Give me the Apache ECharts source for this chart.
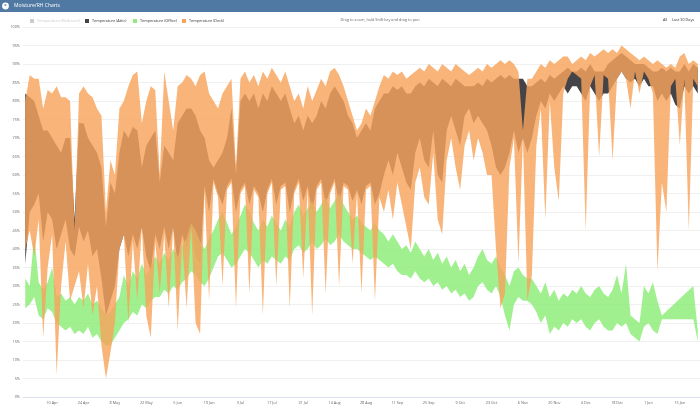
<!DOCTYPE html>
<html>
<head>
<meta charset="utf-8">
<title>Moisture/RH Charts</title>
<script src="https://cdn.jsdelivr.net/npm/echarts@6/dist/echarts.min.js"></script>
<style>
  html, body { margin: 0; padding: 0; background: #fff; }
  #chart { width: 700px; height: 408px; }
</style>
</head>
<body>
<div id="chart"></div>
<script>
// one point every 2 days, first day 29 Mar 2017
var startDate = '2017-03-29'
var stepDays = 2

var tickLabels = ['10 Apr', '24 Apr', '8 May', '22 May', '5 Jun', '19 Jun', '3 Jul', '17 Jul', '31 Jul', '14 Aug',
  '28 Aug', '11 Sep', '25 Sep', '9 Oct', '23 Oct', '6 Nov', '20 Nov', '4 Dec', '18 Dec', '1 Jan', '15 Jan']

var deckMax = [80, 87, 86, 86, 78, 83, 82, 84, 81, 81,
  80, 45, 82, 84, 82, 81, 78, 76, 50, 64,
  60, 78, 80, 84, 87, 88, 74, 80, 84, 83,
  60, 88, 80, 72, 84, 85, 87, 86, 84, 87,
  88, 82, 80, 78, 82, 84, 86, 62, 86, 88,
  85, 87, 84, 88, 86, 89, 87, 85, 88, 84,
  80, 82, 78, 84, 80, 83, 86, 84, 88, 89,
  87, 84, 80, 76, 72, 74, 78, 76, 80, 84,
  87, 86, 88, 87, 88, 86, 87, 88, 89, 88,
  90, 89, 88, 90, 89, 88, 90, 89, 88, 87,
  88, 89, 88, 90, 89, 90, 91, 90, 91, 90,
  88, 72, 86, 86, 88, 90, 89, 91, 90, 91,
  92, 92, 90, 91, 92, 91, 93, 92, 93, 94,
  93, 94, 93, 95, 94, 93, 92, 91, 92, 91,
  90, 91, 90, 89, 90, 89, 92, 93, 90, 91,
  90]
var deckMin = [40, 45, 38, 48, 16, 35, 44, 6, 30, 42,
  26, 30, 34, 24, 36, 22, 30, 14, 5, 12,
  20, 40, 44, 20, 42, 26, 46, 22, 16, 42,
  28, 44, 24, 46, 18, 42, 24, 46, 20, 17,
  56, 26, 58, 54, 30, 56, 58, 24, 55, 57,
  28, 56, 54, 22, 55, 58, 30, 56, 57, 24,
  55, 58, 32, 56, 22, 56, 58, 28, 55, 58,
  30, 57, 56, 36, 55, 28, 56, 57, 26, 54,
  50, 56, 48, 58, 52, 46, 40, 58, 62, 54,
  52, 66, 48, 44, 64, 70, 62, 56, 68, 72,
  64, 70, 66, 60, 60, 40, 24, 28, 62, 70,
  36, 70, 26, 33, 68, 78, 48, 80, 62, 53,
  82, 86, 88, 87, 86, 45, 84, 87, 65, 87,
  86, 64, 86, 88, 86, 78, 88, 82, 88, 86,
  82, 34, 58, 50, 84, 86, 68, 86, 45, 86,
  84]

var atticMax = [82, 81, 80, 76, 72, 72, 70, 68, 66, 70,
  70, 48, 74, 74, 70, 68, 66, 62, 46, 58,
  55, 66, 72, 70, 73, 72, 62, 68, 70, 72,
  58, 68, 66, 64, 74, 76, 78, 78, 76, 72,
  70, 64, 62, 64, 66, 70, 78, 60, 80, 82,
  80, 82, 78, 82, 80, 84, 82, 80, 82, 78,
  74, 76, 72, 76, 74, 76, 80, 78, 82, 84,
  82, 80, 76, 74, 70, 72, 74, 72, 78, 80,
  82, 82, 84, 83, 84, 82, 82, 84, 85, 84,
  86, 85, 84, 86, 85, 84, 86, 85, 84, 84,
  84, 85, 84, 86, 85, 86, 87, 86, 87, 86,
  86, 86, 84, 84, 85, 86, 85, 87, 86, 87,
  88, 89, 88, 88, 89, 88, 90, 88, 88, 88,
  90, 91, 92, 93, 92, 91, 90, 90, 90, 89,
  88, 88, 89, 88, 89, 88, 88, 90, 88, 90,
  89]
var atticMin = [36, 50, 52, 55, 42, 50, 48, 40, 44, 48,
  40, 38, 46, 42, 45, 38, 40, 32, 22, 26,
  30, 40, 44, 38, 44, 40, 46, 38, 34, 44,
  40, 46, 40, 46, 36, 44, 40, 46, 38, 36,
  57, 50, 59, 55, 52, 57, 59, 50, 56, 58,
  52, 57, 55, 50, 56, 59, 52, 57, 58, 50,
  56, 59, 53, 57, 50, 57, 59, 52, 56, 59,
  52, 58, 57, 53, 56, 52, 57, 58, 52, 55,
  60, 64, 60, 66, 62, 58, 56, 66, 70, 64,
  62, 72, 60, 58, 72, 76, 72, 68, 76, 78,
  74, 76, 74, 72, 68, 62, 60, 62, 66, 72,
  66, 70, 66, 70, 76, 80, 78, 82, 80, 82,
  84, 82, 84, 84, 82, 80, 84, 82, 80, 82,
  82, 84, 86, 88, 86, 85, 86, 84, 86, 84,
  84, 80, 82, 80, 82, 79, 78, 84, 82, 84,
  82]

var officeMax = [32, 30, 44, 31, 29, 31, 35, 27, 28, 26,
  27, 25, 27, 26, 28, 25, 26, 24, 22, 23,
  25, 27, 33, 30, 34, 32, 36, 33, 35, 38,
  36, 39, 37, 40, 38, 41, 43, 47, 45, 42,
  40, 43, 45, 48, 50, 47, 44, 46, 49, 52,
  50, 47, 45, 48, 46, 49, 47, 45, 48, 46,
  50, 52, 49, 51, 53, 50, 52, 54, 51, 53,
  55, 52, 50, 48, 49, 47, 46, 45, 47, 45,
  44, 42, 44, 42, 40, 41, 39, 42, 40, 38,
  40, 37, 39, 36, 38, 35, 37, 34, 36, 33,
  35, 38, 40, 37, 36, 38, 35, 33, 30, 34,
  35, 33, 32, 32, 30, 28, 31, 27, 29, 26,
  28, 27, 29, 28, 30, 28, 27, 29, 30, 28,
  27, 29, 33, 28, 36, 22, 21, 20, 30, 28,
  31, 26, 22, null, null, null, null, null, null, 30,
  18]
var officeMin = [24, 25, 27, 22, 21, 24, 23, 20, 19, 18,
  19, 17, 18, 17, 19, 16, 17, 15, 14, 14,
  16, 18, 20, 21, 23, 22, 25, 24, 26, 27,
  27, 29, 28, 30, 29, 31, 32, 34, 33, 31,
  30, 32, 35, 38, 39, 37, 35, 36, 38, 40,
  39, 37, 35, 37, 36, 38, 37, 36, 38, 37,
  40, 41, 39, 40, 42, 40, 41, 43, 41, 42,
  44, 42, 41, 40, 40, 39, 38, 37, 38, 37,
  36, 35, 36, 34, 33, 33, 32, 34, 32, 31,
  32, 30, 31, 29, 30, 28, 29, 27, 28, 26,
  27, 30, 31, 29, 28, 30, 27, 22, 18, 25,
  27, 26, 26, 25, 23, 20, 22, 17, 19, 18,
  20, 19, 21, 20, 21, 19, 18, 20, 21, 19,
  18, 18, 20, 19, 20, 17, 16, 15, 19, 20,
  18, 17, 21, null, null, null, null, null, null, 21,
  15]

var months = ['Jan', 'Feb', 'Mar', 'Apr', 'May', 'Jun', 'Jul', 'Aug', 'Sep', 'Oct', 'Nov', 'Dec']
var days = []
var t0 = new Date(startDate + 'T00:00:00Z').getTime()
for (var i = 0; i < deckMax.length; i++) {
  var dt = new Date(t0 + i * stepDays * 86400000)
  days.push(dt.getUTCDate() + ' ' + months[dt.getUTCMonth()])
}

// min/max band drawn as one polygon; days without data are skipped
function rangeSeries(name, lo, hi, color, opacity) {
  var rows = lo.map(function(v, i) { return [i, v, hi[i]] })
  return {
    name: name,
    type: 'custom',
    data: rows,
    encode: { x: 0, y: [1, 2] },
    itemStyle: { color: color },
    renderItem: function(params, api) {
      if (params.dataIndex !== 0) return null
      var top = []
      var bottom = []
      rows.forEach(function(r) {
        if (r[1] == null || r[2] == null) return
        top.push(api.coord([r[0], r[2]]))
        bottom.unshift(api.coord([r[0], r[1]]))
      })
      return {
        type: 'polygon',
        shape: { points: top.concat(bottom) },
        style: { fill: color, opacity: opacity }
      }
    }
  }
}

var font = 'Open Sans, sans-serif'
var chart = echarts.init(document.getElementById('chart'), null, { renderer: 'canvas' })

function legendAt(name, left) {
  return {
    data: [name],
    left: left,
    top: 19,
    padding: 0,
    itemWidth: 4,
    itemHeight: 4,
    icon: 'rect',
    selected: { 'Temperature (Bedroom)': false },
    inactiveColor: '#cccccc',
    textStyle: { fontSize: 3.8, color: '#333', fontFamily: font, padding: [0, 0, 0, -2] }
  }
}

chart.setOption({
  animation: false,
  color: ['#7cb5ec', '#434348', '#90ed7d', '#f7a35c'],
  legend: [
    legendAt('Temperature (Bedroom)', 30),
    legendAt('Temperature (Attic)', 85),
    legendAt('Temperature (Office)', 133),
    legendAt('Temperature (Deck)', 182)
  ],
  graphic: [
    { type: 'rect', left: 0, top: 0, shape: { width: 700, height: 12 }, style: { fill: '#4f79a3' } },
    { type: 'circle', shape: { cx: 5.5, cy: 6, r: 3.4 }, style: { fill: '#ffffff' } },
    { type: 'text', x: 5.5, y: 6, style: { text: '×', fill: '#4f79a3', fontSize: 5, fontWeight: 'bold', align: 'center', verticalAlign: 'middle', fontFamily: font } },
    { type: 'text', x: 14, y: 6, style: { text: 'Moisture/RH Charts', fill: '#ffffff', fontSize: 5, align: 'left', verticalAlign: 'middle', fontFamily: font } },
    { type: 'text', x: 380, y: 19.5, style: { text: 'Drag to zoom, hold Shift key and drag to pan', fill: '#666', fontSize: 3.8, align: 'center', verticalAlign: 'middle', fontFamily: font } },
    { type: 'text', x: 663, y: 19.5, style: { text: 'All', fill: '#333', fontSize: 3.8, align: 'left', verticalAlign: 'middle', fontFamily: font } },
    { type: 'text', x: 672, y: 19.5, style: { text: 'Last 30 Days', fill: '#333', fontSize: 3.8, align: 'left', verticalAlign: 'middle', fontFamily: font } }
  ],
  grid: { left: 23, right: 0, top: 27, bottom: 11, containLabel: false, outerBoundsMode: 'none' },
  xAxis: {
    type: 'category',
    data: days,
    boundaryGap: true,
    axisLine: { lineStyle: { color: '#ccd6eb', width: 0.6 } },
    axisTick: {
      alignWithLabel: true,
      length: 3,
      lineStyle: { color: '#ccd6eb', width: 0.6 },
      interval: function(i, v) { return tickLabels.indexOf(v) >= 0 }
    },
    axisLabel: {
      interval: function(i, v) { return tickLabels.indexOf(v) >= 0 },
      fontSize: 3.8,
      color: '#666',
      margin: 4,
      fontFamily: font
    },
    splitLine: { show: false }
  },
  yAxis: {
    type: 'value',
    min: 0,
    max: 100,
    interval: 5,
    name: 'Moisture/RH',
    nameLocation: 'middle',
    nameGap: 16,
    nameTextStyle: { fontSize: 3.8, color: '#666', fontFamily: font },
    axisLine: { show: false },
    axisTick: { show: false },
    axisLabel: { formatter: '{value}%', fontSize: 3.8, color: '#666', margin: 3, fontFamily: font },
    splitLine: { lineStyle: { color: '#e6e6e6', width: 0.6 } }
  },
  series: [
    { name: 'Temperature (Bedroom)', type: 'line', data: [], itemStyle: { color: '#7cb5ec' } },
    rangeSeries('Temperature (Attic)', atticMin, atticMax, '#434348', 1),
    rangeSeries('Temperature (Office)', officeMin, officeMax, '#90ed7d', 0.85),
    rangeSeries('Temperature (Deck)', deckMin, deckMax, '#f7a35c', 0.82)
  ]
})
</script>
</body>
</html>
